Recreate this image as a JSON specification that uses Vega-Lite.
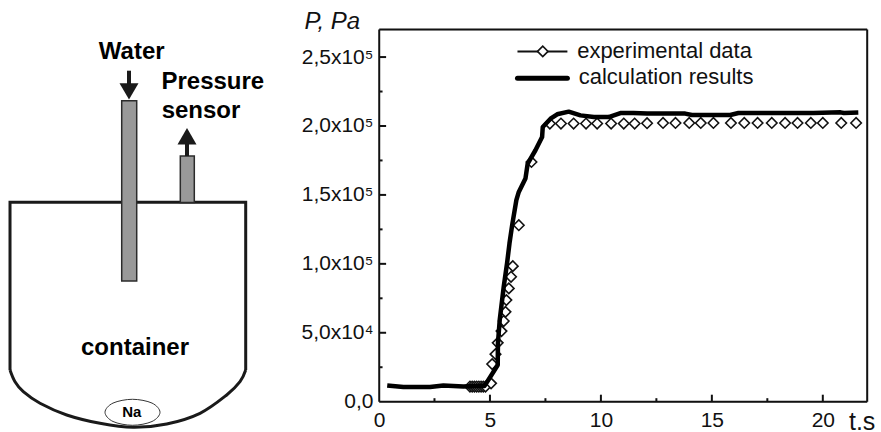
{
"$schema":"https://vega.github.io/schema/vega-lite/v6.json",
"padding":{"left":0,"top":8.5,"right":3,"bottom":3},
"spacing":0,
"bounds":"flush",
"config":{"font":"Liberation Sans","text":{"font":"Liberation Sans"}},
"datasets":{
"calc":[
{"t":0.37,"P":11800},{"t":1.1,"P":10600},{"t":2.3,"P":10600},{"t":2.9,"P":11700},{"t":3.8,"P":11000},{"t":4.6,"P":11500},{"t":4.75,"P":11300},{"t":5.02,"P":18100},{"t":5.35,"P":26600},{"t":5.36,"P":42500},{"t":5.44,"P":59200},{"t":5.62,"P":83300},{"t":5.77,"P":100300},{"t":5.88,"P":114800},{"t":6.0,"P":128000},{"t":6.19,"P":146200},{"t":6.3,"P":152200},{"t":6.6,"P":161900},{"t":6.7,"P":172700},{"t":7.05,"P":182400},{"t":7.35,"P":192000},{"t":7.38,"P":199300},{"t":7.73,"P":205300},{"t":8.03,"P":208500},{"t":8.55,"P":210400},{"t":9.08,"P":207700},{"t":9.68,"P":206500},{"t":10.35,"P":206500},{"t":10.88,"P":209400},{"t":11.47,"P":209400},{"t":12.08,"P":209000},{"t":13.8,"P":209000},{"t":14.1,"P":208000},{"t":15.83,"P":208000},{"t":16.2,"P":209400},{"t":19.57,"P":209400},{"t":20.8,"P":209900},{"t":20.95,"P":209400},{"t":21.6,"P":209700}
],
"exp":[
{"t":4.1,"P":11000},{"t":4.2,"P":11000},{"t":4.3,"P":11000},{"t":4.4,"P":11000},{"t":4.5,"P":11000},{"t":4.6,"P":11000},{"t":4.7,"P":11000},{"t":4.8,"P":11000},{"t":5.05,"P":13300},{"t":5.1,"P":27300},{"t":5.25,"P":34500},{"t":5.35,"P":42700},{"t":5.52,"P":51200},{"t":5.62,"P":58500},{"t":5.7,"P":65200},{"t":5.74,"P":73700},{"t":5.85,"P":82200},{"t":5.95,"P":90600},{"t":6.03,"P":98300},{"t":6.3,"P":128000},{"t":6.87,"P":173900},
{"t":7.7,"P":201800},{"t":8.2,"P":201800},{"t":8.77,"P":201800},{"t":9.33,"P":201800},{"t":9.83,"P":201800},{"t":10.46,"P":201800},{"t":11.03,"P":201800},{"t":11.52,"P":201800},{"t":12.08,"P":202000},{"t":12.8,"P":202200},{"t":13.36,"P":202200},{"t":13.98,"P":202200},{"t":14.5,"P":202200},{"t":15.07,"P":202200},{"t":15.86,"P":202200},{"t":16.46,"P":202200},{"t":17.06,"P":202200},{"t":17.7,"P":202200},{"t":18.3,"P":202200},{"t":18.86,"P":202200},{"t":19.46,"P":202200},{"t":20.0,"P":202200},{"t":20.83,"P":202200},{"t":21.5,"P":202200}
],
"ticksX":[{"t":2.5,"a":20,"b":2540},{"t":7.5,"a":20,"b":2540},{"t":12.5,"a":20,"b":2540},{"t":17.5,"a":20,"b":2540},{"t":5,"a":20,"b":5070},{"t":10,"a":20,"b":5070},{"t":15,"a":20,"b":5070},{"t":20,"a":20,"b":5070}],
"ticksY":[{"P":25000,"a":0.01,"b":0.16},{"P":75000,"a":0.01,"b":0.16},{"P":125000,"a":0.01,"b":0.16},{"P":175000,"a":0.01,"b":0.16},{"P":225000,"a":0.01,"b":0.16},{"P":50000,"a":0.01,"b":0.32},{"P":100000,"a":0.01,"b":0.32},{"P":150000,"a":0.01,"b":0.32},{"P":200000,"a":0.01,"b":0.32},{"P":250000,"a":0.01,"b":0.32}],
"frameH":[{"t":0.01,"t2":22,"P":20},{"t":0.01,"t2":22,"P":270000}],
"frameV":[{"t":0.01,"P":20,"P2":270000},{"t":22,"P":20,"P2":270000}],
"legendKeys":[{"t":6.24,"t2":8.49,"P":254100}],
"legendThick":[{"t":6.24,"t2":8.49,"P":234600}],
"legendSymbol":[{"t":7.38,"P":254100}],
"legendText":[{"t":8.93,"P":249450,"label":"experimental data"},{"t":9.0,"P":230450,"label":"calculation results"}],
"outline":[{"u":10,"v":131.7,"i":1},{"u":10,"v":299.4,"i":2},{"u":245.7,"v":299.4,"i":3},{"u":245.7,"v":131.7,"i":4}],
"arc":[{"u":10,"v":131.7,"i":1},{"u":15,"v":120,"i":2},{"u":23.3,"v":110,"i":3},{"u":40,"v":98.4,"i":4},{"u":66.7,"v":86.7,"i":5},{"u":100,"v":78.4,"i":6},{"u":133,"v":74.4,"i":7},{"u":166.7,"v":77.7,"i":8},{"u":200,"v":88.4,"i":9},{"u":226.7,"v":106.7,"i":10},{"u":240,"v":120,"i":11},{"u":245.7,"v":131.7,"i":12}],
"ellipse":[{"u":160,"v":89.4,"i":1},{"u":152,"v":80.2,"i":2},{"u":132.5,"v":76.4,"i":3},{"u":113,"v":80.2,"i":4},{"u":105,"v":89.4,"i":5},{"u":113,"v":98.6,"i":6},{"u":132.5,"v":102.4,"i":7},{"u":152,"v":98.6,"i":8}],
"pipes":[{"u":121.7,"u2":136.7,"v":401,"v2":220.7},{"u":180.3,"u2":194.3,"v":345.7,"v2":299.2}],
"shafts":[{"u":129,"v":431,"v2":416},{"u":187,"v":357.7,"v2":345.7}],
"headDown":[{"u":129,"v":410.3}],
"headUp":[{"u":187,"v":365.5}],
"bigText":[{"u":131.7,"v":442.4,"label":"Water"},{"u":212.8,"v":412.4,"label":"Pressure"},{"u":201,"v":383.4,"label":"sensor"},{"u":135,"v":146.7,"label":"container"}],
"naText":[{"u":131.7,"v":85,"label":"Na"}]
},
"hconcat":[
{
"width":378.5,"height":372.2,
"view":{"stroke":null},
"encoding":{
"x":{"field":"u","type":"quantitative","scale":{"domain":[0,378.5],"nice":false,"zero":false},"axis":null},
"y":{"field":"v","type":"quantitative","scale":{"domain":[100,472.2],"nice":false,"zero":false},"axis":null}
},
"layer":[
{"data":{"name":"outline"},"mark":{"type":"line","color":"#1a1a1a","strokeWidth":3,"clip":false,"strokeJoin":"miter"},"encoding":{"order":{"field":"i"}}},
{"data":{"name":"arc"},"mark":{"type":"line","color":"#1a1a1a","strokeWidth":3,"interpolate":"cardinal","clip":false},"encoding":{"order":{"field":"i"}}},
{"data":{"name":"ellipse"},"mark":{"type":"line","color":"#333333","strokeWidth":1,"interpolate":"cardinal-closed"},"encoding":{"order":{"field":"i"}}},
{"data":{"name":"pipes"},"mark":{"type":"rect","fill":"#999999","stroke":"#2b2b2b","strokeWidth":1.5},"encoding":{"x2":{"field":"u2"},"y2":{"field":"v2"}}},
{"data":{"name":"shafts"},"mark":{"type":"rule","color":"#1a1a1a","strokeWidth":4},"encoding":{"y2":{"field":"v2"}}},
{"data":{"name":"headDown"},"mark":{"type":"point","shape":"triangle-down","filled":true,"color":"#1a1a1a","size":361,"opacity":1}},
{"data":{"name":"headUp"},"mark":{"type":"point","shape":"triangle-up","filled":true,"color":"#1a1a1a","size":361,"opacity":1}},
{"data":{"name":"bigText"},"mark":{"type":"text","fontSize":24,"fontWeight":"bold","color":"#000000","align":"center","baseline":"alphabetic"},"encoding":{"text":{"field":"label"}}},
{"data":{"name":"naText"},"mark":{"type":"text","fontSize":15,"fontWeight":"bold","color":"#000000","align":"center","baseline":"alphabetic"},"encoding":{"text":{"field":"label"}}}
]
},
{
"width":488.2,"height":372.2,
"layer":[
{"data":{"name":"exp"},"mark":{"type":"point","shape":"diamond","filled":true,"fill":"#ffffff","stroke":"#111111","strokeWidth":1.6,"size":110,"opacity":1},
"encoding":{
"x":{"field":"t","type":"quantitative","scale":{"domain":[0,22],"nice":false},"axis":{"values":[0,5,10,15,20],"grid":false,"domain":false,"ticks":false,"labelFontSize":21,"labelColor":"#111111","labelPadding":8,"labelFlush":false,"title":"t.s","titleFontSize":25,"titleFontWeight":"normal","titleColor":"#111111","titleX":469.5,"titleY":28,"titleAlign":"left","titleBaseline":"alphabetic"}},
"y":{"field":"P","type":"quantitative","scale":{"domain":[0,270000],"nice":false},"axis":{"values":[0,50000,100000,150000,200000,250000],"grid":false,"domain":false,"ticks":false,"labelFontSize":21,"labelColor":"#111111","labelPadding":6,"labelFlush":false,"labelExpr":"datum.value==0?'0,0':datum.value==50000?'5,0x10⁴':replace(format(datum.value/100000,'.1f'),'.',',')+'x10⁵'","title":"P, Pa","titleFontSize":24,"titleFontStyle":"italic","titleFontWeight":"normal","titleColor":"#111111","titleAngle":0,"titleAlign":"left","titleBaseline":"alphabetic","titleX":-75,"titleY":-1}}
}},
{"data":{"name":"calc"},"mark":{"type":"line","color":"#000000","strokeWidth":4.5,"strokeJoin":"round"},
"encoding":{"x":{"field":"t","type":"quantitative"},"y":{"field":"P","type":"quantitative"}}},
{"data":{"name":"frameH"},"mark":{"type":"rule","color":"#111111","strokeWidth":2},
"encoding":{"x":{"field":"t","type":"quantitative"},"x2":{"field":"t2"},"y":{"field":"P","type":"quantitative"}}},
{"data":{"name":"frameV"},"mark":{"type":"rule","color":"#111111","strokeWidth":2},
"encoding":{"x":{"field":"t","type":"quantitative"},"y":{"field":"P","type":"quantitative"},"y2":{"field":"P2"}}},
{"data":{"name":"ticksX"},"mark":{"type":"rule","color":"#111111","strokeWidth":2},
"encoding":{"x":{"field":"t","type":"quantitative"},"y":{"field":"a","type":"quantitative"},"y2":{"field":"b"}}},
{"data":{"name":"ticksY"},"mark":{"type":"rule","color":"#111111","strokeWidth":2},
"encoding":{"y":{"field":"P","type":"quantitative"},"x":{"field":"a","type":"quantitative"},"x2":{"field":"b"}}},
{"data":{"name":"legendKeys"},"mark":{"type":"rule","color":"#111111","strokeWidth":2},
"encoding":{"x":{"field":"t","type":"quantitative"},"x2":{"field":"t2"},"y":{"field":"P","type":"quantitative"}}},
{"data":{"name":"legendSymbol"},"mark":{"type":"point","shape":"diamond","filled":true,"fill":"#ffffff","stroke":"#111111","strokeWidth":1.6,"size":110,"opacity":1},
"encoding":{"x":{"field":"t","type":"quantitative"},"y":{"field":"P","type":"quantitative"}}},
{"data":{"name":"legendThick"},"mark":{"type":"rule","color":"#000000","strokeWidth":5,"strokeCap":"round"},
"encoding":{"x":{"field":"t","type":"quantitative"},"x2":{"field":"t2"},"y":{"field":"P","type":"quantitative"}}},
{"data":{"name":"legendText"},"mark":{"type":"text","fontSize":22,"color":"#111111","align":"left","baseline":"alphabetic"},
"encoding":{"x":{"field":"t","type":"quantitative"},"y":{"field":"P","type":"quantitative"},"text":{"field":"label"}}}
]
}
]
}
